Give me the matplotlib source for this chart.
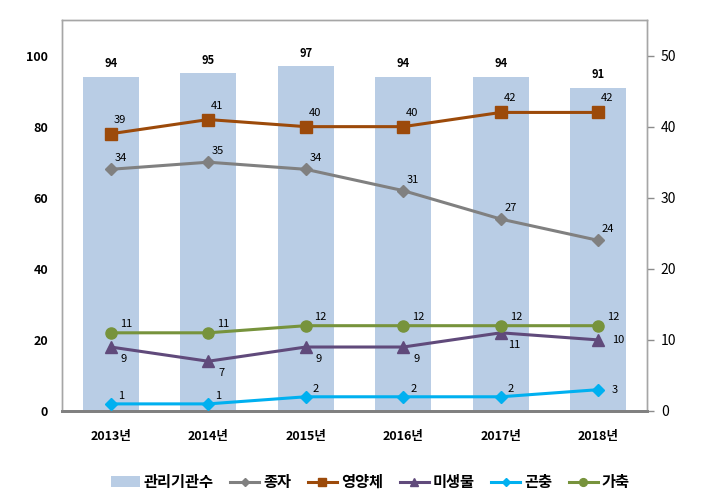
import matplotlib
matplotlib.use("Agg")
import matplotlib.pyplot as plt
from matplotlib.patches import Patch
from matplotlib.lines import Line2D

plt.rcParams['font.family'] = ['Noto Sans CJK KR', 'DejaVu Sans']

years = ['2013년', '2014년', '2015년', '2016년', '2017년', '2018년']
agencies = [94, 95, 97, 94, 94, 91]
seeds = [34, 35, 34, 31, 27, 24]          # 종자
vegetative = [39, 41, 40, 40, 42, 42]     # 영양체
microbes = [9, 7, 9, 9, 11, 10]           # 미생물
insects = [1, 1, 2, 2, 2, 3]              # 곤충
livestock = [11, 11, 12, 12, 12, 12]      # 가축

fig = plt.figure(figsize=(7.09, 4.98), dpi=100)
ax = fig.add_axes([0.0874, 0.1747, 0.8252, 0.7851])
ax2 = ax.twinx()

x = list(range(len(years)))
bar_color = '#B9CDE5'
ax.bar(x, agencies, width=0.57, color=bar_color, zorder=1)
for xi, v in zip(x, agencies):
    ax.annotate(str(v), (xi, v), xytext=(0, 13), textcoords='offset pixels',
                ha='center', va='center', fontsize=8, fontweight='bold')

ax.set_xlim(-0.5, 5.5)
ax.set_ylim(0, 110)
ax.set_yticks([0, 20, 40, 60, 80, 100])
ax2.set_ylim(0, 55)
ax2.set_yticks([0, 10, 20, 30, 40, 50])
ax.set_xticks(x)
ax.set_xticklabels(years, fontweight='bold', fontsize=9)
ax.tick_params(axis='x', length=0, pad=14)
ax.tick_params(axis='y', length=0, pad=10, labelsize=9)
for lab in ax.get_yticklabels():
    lab.set_fontweight('bold')
ax2.tick_params(axis='y', length=5, width=1, color='#8C8C8C', labelsize=10, pad=5)

for a in (ax, ax2):
    for s in ('left', 'top', 'right'):
        a.spines[s].set_color('#A6A6A6')
        a.spines[s].set_linewidth(1)
    a.spines['bottom'].set_color('#808080')
    a.spines['bottom'].set_linewidth(2)

series = [
    ('종자', seeds, '#808080', 'D', 6.5, (10, 11), {}),
    ('영양체', vegetative, '#9C4A0A', 's', 9, (9, 14), {}),
    ('미생물', microbes, '#604A7B', '^', 8, (13, -12), {5: (20, 0)}),
    ('곤충', insects, '#00B0F0', 'D', 6.5, (10, 8), {5: (16, 0)}),
    ('가축', livestock, '#77933C', 'o', 8, (15, 9), {}),
]

handles = [Patch(facecolor=bar_color, edgecolor='none', label='관리기관수')]
for name, vals, col, mk, ms, off, over in series:
    ax2.plot(x, vals, color=col, lw=2.2, marker=mk, markersize=ms, zorder=3)
    for i, (xi, v) in enumerate(zip(x, vals)):
        dx, dy = over.get(i, off)
        ax2.annotate(str(v), (xi, v), xytext=(dx, dy), textcoords='offset pixels',
                     ha='center', va='center', fontsize=8)
    handles.append(Line2D([0], [0], color=col, lw=2.2, marker=mk,
                          markersize=ms * 0.7, label=name))

leg = fig.legend(handles=handles, loc='center', bbox_to_anchor=(0.522, 0.032),
                 ncol=6, frameon=False, fontsize=11, handlelength=1.9,
                 columnspacing=1.1, handletextpad=0.25)
for t in leg.get_texts():
    t.set_fontweight('bold')

fig.savefig('out.png', dpi=100)
